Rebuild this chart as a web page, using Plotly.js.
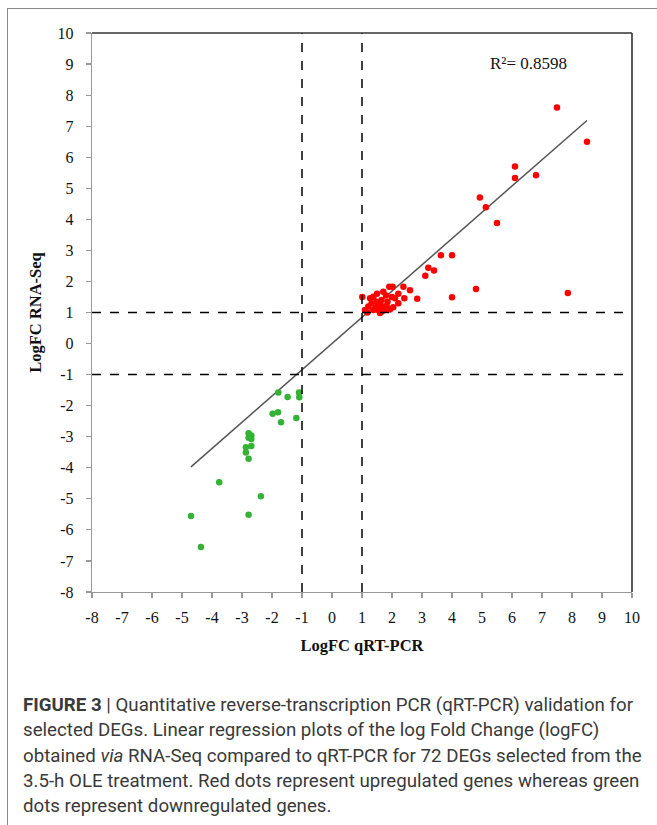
<!DOCTYPE html>
<html>
<head>
<meta charset="utf-8">
<script src="https://cdn.plot.ly/plotly-3.0.1.min.js"></script>
<style>
html,body{margin:0;padding:0;background:#fff;}
#chart{width:657px;height:825px;}
</style>
</head>
<body>
<div id="chart"></div>
<script>
// ---- data ----
const upX = [7.5, 8.5, 6.1, 6.1, 6.8, 4.93, 5.13, 5.5, 3.63, 4.0, 3.21, 3.4, 3.11, 4.0, 4.8, 7.86,
  2.6, 2.84, 2.38, 2.41, 1.91, 2.02, 1.71, 2.21, 2.1, 1.01, 1.27, 1.38, 1.49, 1.6, 1.32, 1.21,
  1.71, 1.54, 1.66, 1.82, 1.93, 2.04, 2.21, 1.1, 1.18, 1.6, 1.38, 1.55, 1.75, 1.45, 1.65, 1.85, 2.0, 1.5, 1.8];
const upY = [7.6, 6.5, 5.7, 5.33, 5.42, 4.7, 4.39, 3.88, 2.84, 2.84, 2.44, 2.35, 2.18, 1.49, 1.76, 1.63,
  1.72, 1.44, 1.83, 1.46, 1.83, 1.83, 1.67, 1.6, 1.46, 1.5, 1.46, 1.51, 1.35, 1.3, 1.3, 1.19,
  1.19, 1.08, 1.03, 1.21, 1.1, 1.17, 1.3, 1.08, 1.0, 0.98, 1.08, 1.2, 1.1, 1.15, 1.4, 1.35, 1.5, 1.6, 1.55];
const downX = [-1.79, -1.48, -1.1, -1.09, -1.98, -1.8, -1.7, -1.19, -2.78, -2.69, -2.78, -2.69, -2.87,
  -2.69, -2.87, -2.78, -3.76, -2.37, -4.7, -2.78, -4.37];
const downY = [-1.58, -1.72, -1.58, -1.73, -2.26, -2.21, -2.53, -2.4, -2.89, -2.96, -3.03, -3.07, -3.34,
  -3.3, -3.51, -3.71, -4.47, -4.92, -5.55, -5.51, -6.55];
const fitSlope = 0.845;
const fitIntercept = 0.0;
const fitRange = [-4.7, 8.5];
const rSquaredLabel = "R²= 0.8598";
const thresholds = [-1, 1];
const tickVals = [-8,-7,-6,-5,-4,-3,-2,-1,0,1,2,3,4,5,6,7,8,9,10];
const tickText = ["-8","-7","-6","-5","-4","-3","-2","-1","0","1","2","3","4","5","6","7","8","9","10"];
const xTitle = "LogFC qRT-PCR";
const yTitle = "LogFC RNA-Seq";
const captionLines = [
  "<b>FIGURE 3</b> | Quantitative reverse-transcription PCR (qRT-PCR) validation for",
  "selected DEGs. Linear regression plots of the log Fold Change (logFC)",
  "obtained <i>via</i> RNA-Seq compared to qRT-PCR for 72 DEGs selected from the",
  "3.5-h OLE treatment. Red dots represent upregulated genes whereas green",
  "dots represent downregulated genes."
];

// ---- layout geometry ----
const W = 657, H = 825;
const L = 92, R = 632, T = 33, B = 592;
const px2x = p => (p - L) / (R - L);
const py2y = p => (B - p) / (B - T);

const fitY = fitRange.map(x => fitSlope * x + fitIntercept);

const serif = "Liberation Serif, Times New Roman, serif";

const traces = [
  {x: fitRange, y: fitY, mode: 'lines', type: 'scatter',
   line: {color: '#555555', width: 1.5}, hoverinfo: 'skip'},
  {x: upX, y: upY, mode: 'markers', type: 'scatter',
   marker: {color: '#ff0000', size: 6.5}},
  {x: downX, y: downY, mode: 'markers', type: 'scatter',
   marker: {color: '#33b233', size: 6.5}}
];

const shapes = [];
thresholds.forEach(v => {
  shapes.push({type: 'line', xref: 'x', yref: 'paper', x0: v, x1: v, y0: 0, y1: 1,
    line: {color: '#000', width: 1.5, dash: 'dash'}, layer: 'above'});
  shapes.push({type: 'line', xref: 'paper', yref: 'y', x0: 0, x1: 1, y0: v, y1: v,
    line: {color: '#000', width: 1.5, dash: 'dash'}, layer: 'above'});
});
// top and right border of plot box
shapes.push({type: 'line', xref: 'paper', yref: 'paper', x0: 0, x1: 1, y0: 1, y1: 1,
  line: {color: '#333', width: 1.6}});
shapes.push({type: 'line', xref: 'paper', yref: 'paper', x0: 1, x1: 1, y0: 0, y1: 1,
  line: {color: '#333', width: 1.6}});
// figure frame (left and top)
shapes.push({type: 'line', xref: 'paper', yref: 'paper', x0: px2x(7.5), x1: px2x(7.5), y0: py2y(8), y1: py2y(H + 5),
  line: {color: '#888', width: 1}});
shapes.push({type: 'line', xref: 'paper', yref: 'paper', x0: px2x(7.5), x1: px2x(W + 5), y0: py2y(8.5), y1: py2y(8.5),
  line: {color: '#888', width: 1}});

const annotations = [
  {text: rSquaredLabel, xref: 'paper', yref: 'paper',
   x: px2x(528), y: py2y(63), xanchor: 'center', yanchor: 'middle', showarrow: false,
   font: {family: serif, size: 17, color: '#111'}}
];
captionLines.forEach((t, i) => {
  annotations.push({text: t, xref: 'paper', yref: 'paper', x: px2x(21), y: py2y(705 + i * 25.3),
    xanchor: 'left', yanchor: 'middle', align: 'left', showarrow: false,
    font: {family: 'Roboto, sans-serif', size: 18.7, color: '#3a3a3a'}});
});

const layout = {
  width: W, height: H,
  margin: {l: L, r: W - R, t: T, b: H - B, pad: 0},
  paper_bgcolor: '#fff', plot_bgcolor: '#fff',
  showlegend: false,
  xaxis: {range: [-8, 10], tickvals: tickVals, ticktext: tickText, showgrid: false, zeroline: false,
    showline: true, linecolor: '#999', linewidth: 1.2, ticks: 'outside', ticklen: 5,
    tickcolor: '#999', tickwidth: 1.2, ticklabelstandoff: 6,
    tickfont: {family: serif, size: 16, color: '#111'},
    title: {text: '<b>' + xTitle + '</b>', font: {family: serif, size: 16.5, color: '#111'}, standoff: 14}},
  yaxis: {range: [-8, 10], tickvals: tickVals, ticktext: tickText, showgrid: false, zeroline: false,
    showline: true, linecolor: '#999', linewidth: 1.2, ticks: 'outside', ticklen: 5,
    tickcolor: '#999', tickwidth: 1.2, ticklabelstandoff: 9,
    tickfont: {family: serif, size: 16, color: '#111'},
    title: {text: '<b>' + yTitle + '</b>', font: {family: serif, size: 16.5, color: '#111'}, standoff: 11}},
  shapes: shapes,
  annotations: annotations
};

Plotly.newPlot('chart', traces, layout, {displayModeBar: false, staticPlot: true});
</script>
</body>
</html>
